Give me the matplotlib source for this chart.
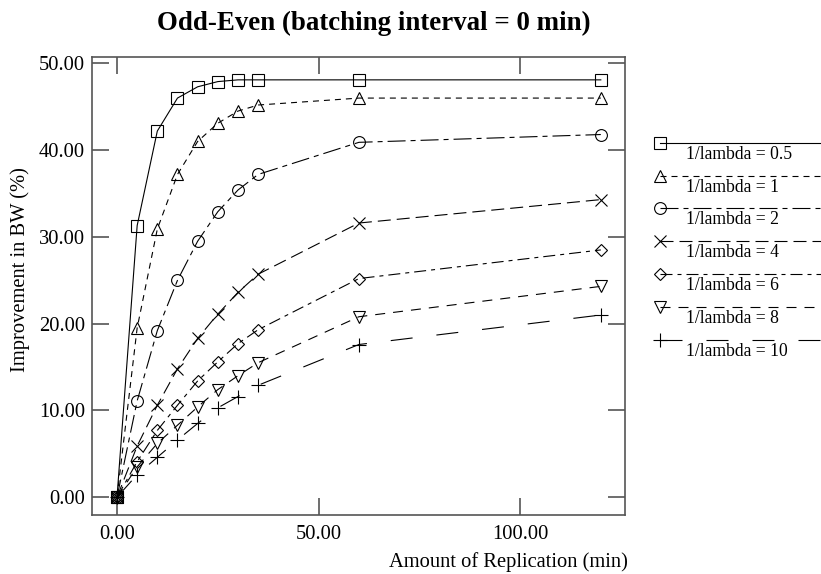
import matplotlib
matplotlib.use("Agg")
import matplotlib.pyplot as plt
from matplotlib.lines import Line2D

plt.rcParams['font.family'] = ['Liberation Serif', 'DejaVu Serif']
plt.rcParams['lines.scale_dashes'] = False

# ---- data ----
replication = [0, 5, 10, 15, 20, 25, 30, 35, 60, 120]
labels = ["1/lambda = 0.5", "1/lambda = 1", "1/lambda = 2", "1/lambda = 4",
          "1/lambda = 6", "1/lambda = 8", "1/lambda = 10"]
lam_05 = [0, 31.3, 42.2, 46.0, 47.3, 47.9, 48.1, 48.1, 48.1, 48.1]
lam_1 = [0, 19.5, 30.9, 37.2, 41.0, 43.1, 44.5, 45.2, 46.0, 46.0]
lam_2 = [0, 11.1, 19.2, 25.0, 29.5, 32.9, 35.4, 37.2, 40.9, 41.8]
lam_4 = [0, 5.9, 10.6, 14.8, 18.3, 21.1, 23.6, 25.7, 31.6, 34.3]
lam_6 = [0, 4.1, 7.7, 10.6, 13.4, 15.6, 17.7, 19.3, 25.2, 28.5]
lam_8 = [0, 3.5, 6.2, 8.3, 10.4, 12.4, 14.0, 15.5, 20.8, 24.3]
lam_10 = [0, 2.6, 4.6, 6.6, 8.5, 10.3, 11.6, 12.9, 17.6, 21.0]
series = [lam_05, lam_1, lam_2, lam_4, lam_6, lam_8, lam_10]

xticks = [0, 50, 100]
xticklabels = ["0.00", "50.00", "100.00"]
yticks = [0, 10, 20, 30, 40, 50]
yticklabels = ["0.00", "10.00", "20.00", "30.00", "40.00", "50.00"]

# ---- styles ----
px = 0.72  # pixel -> point
markers = ['s', '^', 'o', 'x', 'D', 'v', '+']
msizes = [8.5, 8.5, 8.5, 8.5, 6.5, 8.5, 9.5]
dashes = [
    '-',
    (0, (6 * px, 5 * px)),
    (0, (18 * px, 5 * px, 5 * px, 5 * px)),
    (0, (13 * px, 6 * px)),
    (0, (12 * px, 5 * px, 4 * px, 5 * px)),
    (0, (10 * px, 8 * px)),
    (0, (22 * px, 24 * px)),
]

W, H = 821, 574
fig = plt.figure(figsize=(W / 100, H / 100), dpi=100)
ax = fig.add_axes([92 / W, 1 - 515 / H, (625 - 92) / W, (515 - 57.3) / H])

for ys, m, ms, ls in zip(series, markers, msizes, dashes):
    ax.plot(replication, ys, color='black', linewidth=0.8, linestyle=ls,
            marker=m, markersize=ms, markerfacecolor='none',
            markeredgecolor='black', markeredgewidth=0.8, clip_on=False)

ax.set_xlim(-6.2, 126)
ax.set_ylim(-2.05, 50.7)
ax.set_xticks(xticks)
ax.set_xticklabels(xticklabels)
ax.set_yticks(yticks)
ax.set_yticklabels(yticklabels)
spine_col = '#555555'
for s in ax.spines.values():
    s.set_color(spine_col)
    s.set_linewidth(1.2)
ax.tick_params(direction='in', length=12, width=1.2, color=spine_col,
               top=True, right=True, labelsize=14.8, pad=7, labelcolor='black')
ax.tick_params(axis='y', pad=5)

fig.text(373.5 / W, 1 - 30 / H, "Odd-Even (batching interval = 0 min)",
         ha='center', va='baseline', fontsize=19.4, fontweight='bold')
fig.text(628 / W, 1 - 562 / H, "Amount of Replication (min)",
         ha='right', va='center', fontsize=14.8)
fig.text(20 / W, 1 - 270 / H, "Improvement in BW (%)", rotation=90,
         ha='center', va='center', fontsize=14.8)

# ---- legend (manual, lines run to figure edge) ----
for k, (lab, m, ms, ls) in enumerate(zip(labels, markers, msizes, dashes)):
    yk = 142.7 + 32.8 * k
    yf = 1 - yk / H
    fig.add_artist(Line2D([660 / W, 1.0], [yf, yf], transform=fig.transFigure,
                          color='black', linewidth=0.8, linestyle=ls))
    fig.add_artist(Line2D([660 / W], [yf], transform=fig.transFigure,
                          color='black', linestyle='none', marker=m, markersize=ms,
                          markerfacecolor='none', markeredgewidth=0.8))
    fig.text(686 / W, 1 - (yk + 11.5) / H, lab, ha='left', va='center',
             fontsize=12.7)

fig.savefig("out.png", dpi=100)
